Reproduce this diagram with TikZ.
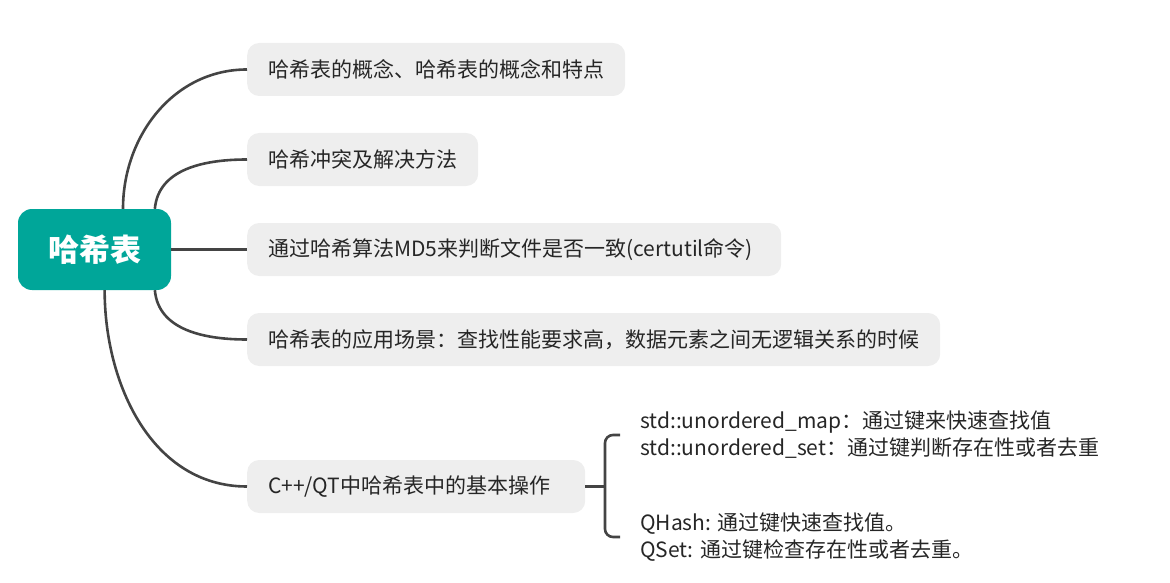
\documentclass[tikz,border=0pt]{standalone}
\usepackage{fontspec}
\setmainfont{Noto Sans CJK SC}
\usetikzlibrary{positioning}

\definecolor{rootteal}{RGB}{0,166,153}
\definecolor{boxgray}{RGB}{238,238,238}
\definecolor{linegray}{RGB}{68,68,68}
\definecolor{txtgray}{RGB}{38,38,38}

\tikzset{
    topic/.style={fill=boxgray, rounded corners=12pt, minimum height=53pt,
        inner xsep=21pt, anchor=west, text=txtgray, font=\fontsize{21}{27}\selectfont},
    branch/.style={draw=linegray, line width=2.6pt},
    leaf/.style={anchor=west, align=left, text=txtgray, inner sep=0pt,
        font=\fontsize{21}{27}\selectfont}
}

\begin{document}
\begin{tikzpicture}[x=1pt, y=-1pt]
    \useasboundingbox (0,0) rectangle (1170,583);

    \node[fill=rootteal, rounded corners=14pt, minimum width=153pt, minimum height=81pt,
        text=white, font=\fontsize{31}{36}\selectfont\bfseries] (root) at (94.5,249.5) {哈希表};

    \node[topic] (concept) at (247,69.5) {哈希表的概念、哈希表的概念和特点};
    \node[topic] (conflict) at (247,159.5) {哈希冲突及解决方法};
    \node[topic, text width=492pt, align=left] (md5) at (247,249.5) {通过哈希算法MD5来判断文件是否一致(certutil命令)};
    \node[topic] (usage) at (247,339.5) {哈希表的应用场景：查找性能要求高，数据元素之间无逻辑关系的时候};
    \node[topic, text width=296pt, align=left] (ops) at (247,486.5) {C++/QT中哈希表中的基本操作};

    \draw[branch] (root.55) to[out=90, in=180] (concept.west);
    \draw[branch] (root.34) to[out=85, in=180] (conflict.west);
    \draw[branch] (root.east) -- (md5.west);
    \draw[branch] (root.-34) to[out=-85, in=180] (usage.west);
    \draw[branch] (root.-76) to[out=-90, in=180] (ops.west);

    % bracket to the two groups
    \coordinate (brtop) at (620,435);
    \coordinate (brbot) at (620,537);
    \draw[branch] (ops.east) -- (605,486.5);
    \draw[branch, rounded corners=8pt] (brtop) -- (605,435) -- (605,537) -- (brbot);

    \node[leaf] (stdset) at (640,435) {std::unordered\_map：通过键来快速查找值\\std::unordered\_set：通过键判断存在性或者去重};
    \node[leaf] (qtset) at (640,537) {QHash: 通过键快速查找值。\\QSet: 通过键检查存在性或者去重。};
\end{tikzpicture}
\end{document}
